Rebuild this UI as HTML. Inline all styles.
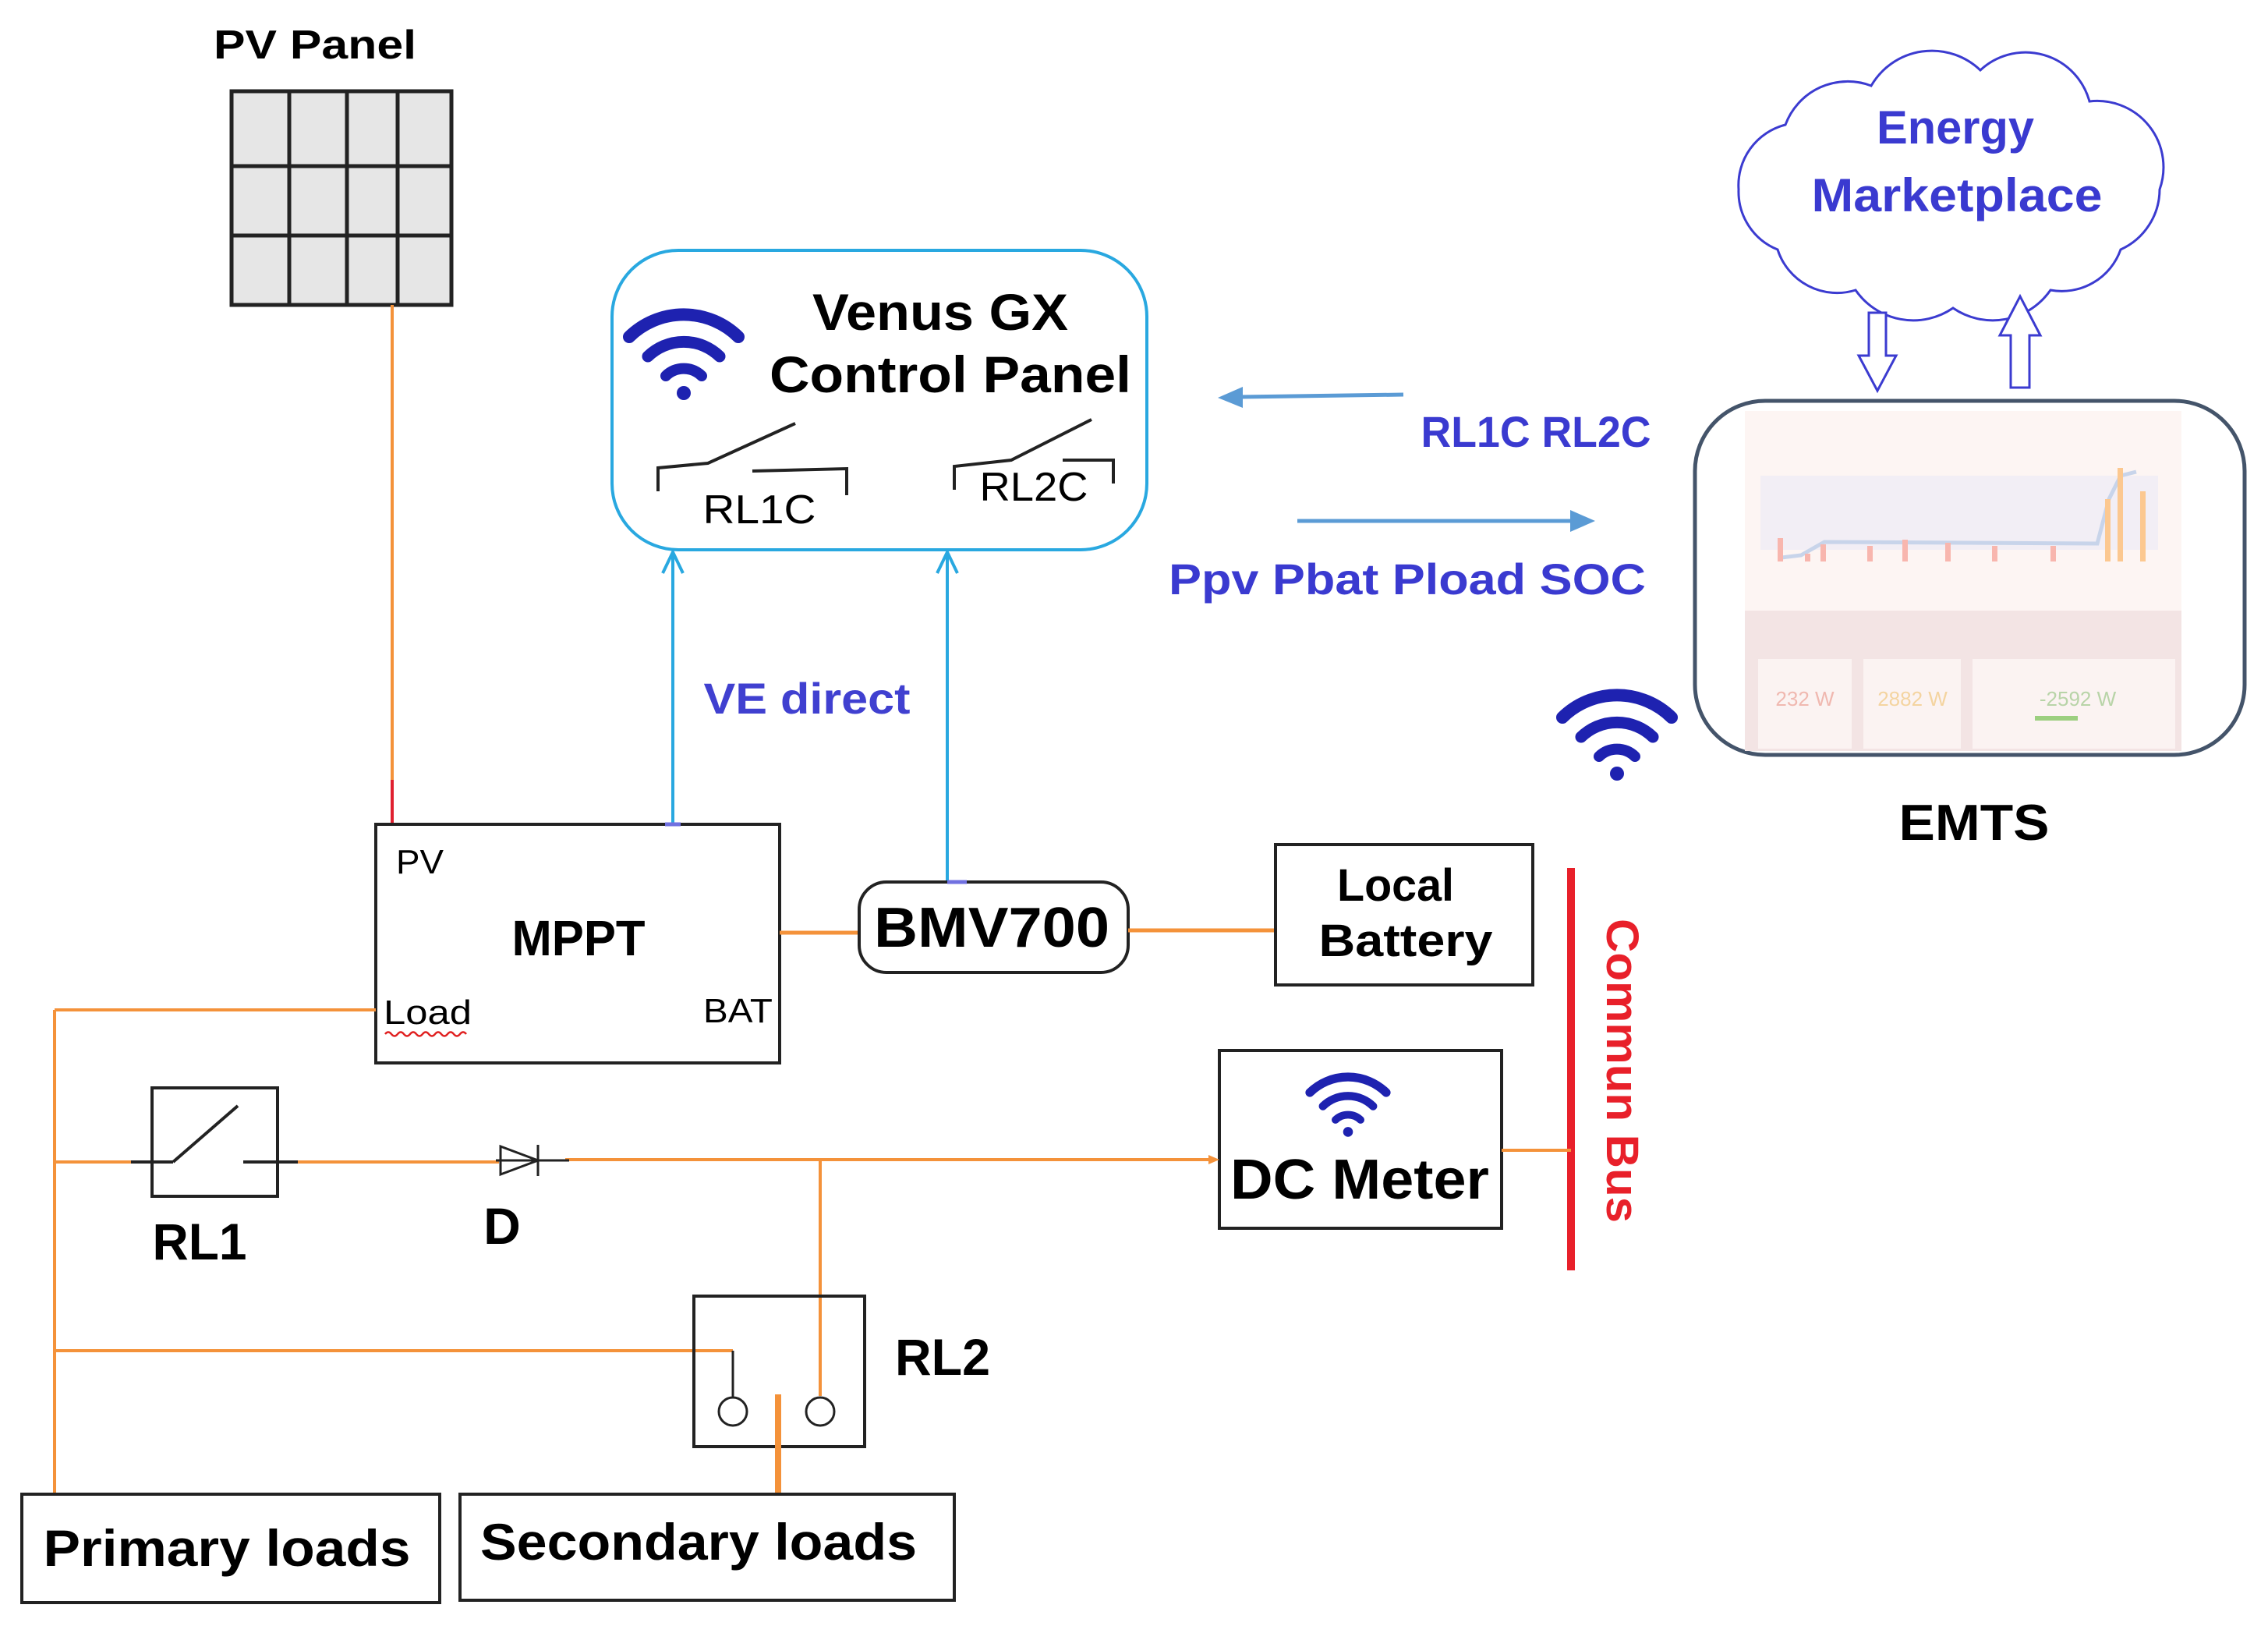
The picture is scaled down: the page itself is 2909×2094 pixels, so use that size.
<!DOCTYPE html>
<html><head><meta charset="utf-8"><style>
html,body{margin:0;padding:0;background:#fff}
svg{display:block}
text{font-family:"Liberation Sans",sans-serif}
</style></head><body>
<svg width="2909" height="2094" viewBox="0 0 2909 2094" xmlns="http://www.w3.org/2000/svg">
<defs>
<g id="wifi">
<path d="M-70,-20 A100,100 0 0 1 70,-20" fill="none" stroke="#1e22b0" stroke-width="16" stroke-linecap="round"/>
<path d="M-46,5 A66,66 0 0 1 46,5" fill="none" stroke="#1e22b0" stroke-width="15" stroke-linecap="round"/>
<path d="M-23,30 A33,33 0 0 1 23,30" fill="none" stroke="#1e22b0" stroke-width="14" stroke-linecap="round"/>
<circle cx="0" cy="52" r="9" fill="#1e22b0"/>
</g>
</defs>

<!-- PV panel -->
<text x="404" y="75" font-size="52" font-weight="bold" text-anchor="middle" textLength="260" lengthAdjust="spacingAndGlyphs">PV Panel</text>
<rect x="297" y="117" width="282" height="274" fill="#e6e6e6" stroke="#222" stroke-width="5"/>
<g stroke="#222" stroke-width="5">
<line x1="371" y1="117" x2="371" y2="391"/><line x1="445" y1="117" x2="445" y2="391"/><line x1="510" y1="117" x2="510" y2="391"/>
<line x1="297" y1="213" x2="579" y2="213"/><line x1="297" y1="302" x2="579" y2="302"/>
</g>
<line x1="503" y1="391" x2="503" y2="1000" stroke="#f4923a" stroke-width="4"/>
<line x1="503" y1="1000" x2="503" y2="1057" stroke="#e02030" stroke-width="4"/>

<!-- Venus GX -->
<rect x="785" y="321" width="686" height="384" rx="85" fill="#fff" stroke="#29a8e0" stroke-width="4"/>
<use href="#wifi" x="877" y="452"/>
<text x="1206" y="423" font-size="66" font-weight="bold" text-anchor="middle" textLength="328" lengthAdjust="spacingAndGlyphs">Venus GX</text>
<text x="1219" y="503" font-size="66" font-weight="bold" text-anchor="middle" textLength="464" lengthAdjust="spacingAndGlyphs">Control Panel</text>
<g stroke="#222" stroke-width="4" fill="none">
<polyline points="844,630 844,600 908,594 1020,543"/>
<polyline points="965,604 1086,601 1086,635"/>
<polyline points="1224,628 1224,598 1297,590 1400,538"/>
<polyline points="1363,590 1428,590 1428,620"/>
</g>
<text x="974" y="671" font-size="52" text-anchor="middle" textLength="145" lengthAdjust="spacingAndGlyphs">RL1C</text>
<text x="1326" y="642" font-size="52" text-anchor="middle" textLength="139" lengthAdjust="spacingAndGlyphs">RL2C</text>

<!-- VE direct arrows -->
<g stroke="#29a8e0" stroke-width="4" fill="none">
<line x1="863" y1="1057" x2="863" y2="710"/><polyline points="850,735 863,708 876,735"/>
<line x1="1215" y1="1131" x2="1215" y2="710"/><polyline points="1202,735 1215,708 1228,735"/>
</g>
<text x="1035" y="915" font-size="56" font-weight="bold" fill="#4040d0" text-anchor="middle" textLength="265" lengthAdjust="spacingAndGlyphs">VE direct</text>

<!-- comm arrows -->
<line x1="1800" y1="506" x2="1590" y2="509" stroke="#5b9bd5" stroke-width="5"/>
<polygon points="1562,510 1594,496 1594,523" fill="#5b9bd5"/>
<text x="1970" y="573" font-size="56" font-weight="bold" fill="#3a3ad0" text-anchor="middle" textLength="295" lengthAdjust="spacingAndGlyphs">RL1C RL2C</text>
<line x1="1664" y1="668" x2="2020" y2="668" stroke="#5b9bd5" stroke-width="5"/>
<polygon points="2046,668 2014,654 2014,682" fill="#5b9bd5"/>
<text x="1805" y="762" font-size="56" font-weight="bold" fill="#3a3ad0" text-anchor="middle" textLength="612" lengthAdjust="spacingAndGlyphs">Ppv  Pbat Pload SOC</text>

<!-- cloud -->
<path d="M2770,243 A85,85 0 0 1 2720,320 A80,80 0 0 1 2630,372 A90,90 0 0 1 2505,395 A90,90 0 0 1 2380,372 A80,80 0 0 1 2280,320 A80,80 0 0 1 2230,243 A80,80 0 0 1 2290,160 A85,85 0 0 1 2400,110 A90,90 0 0 1 2540,90 A85,85 0 0 1 2680,130 A85,85 0 0 1 2770,243 Z" fill="#fff" stroke="#3b3bd0" stroke-width="3"/>
<text x="2508" y="184" font-size="60" font-weight="bold" fill="#3a3ad0" text-anchor="middle" textLength="202" lengthAdjust="spacingAndGlyphs">Energy</text>
<text x="2510" y="271" font-size="60" font-weight="bold" fill="#3a3ad0" text-anchor="middle" textLength="373" lengthAdjust="spacingAndGlyphs">Marketplace</text>
<polygon points="2397,401 2419,401 2419,456 2432,456 2408,501 2384,456 2397,456" fill="#fff" stroke="#3b3bd0" stroke-width="3"/>
<polygon points="2591,380 2617,430 2603,430 2603,497 2579,497 2579,430 2565,430" fill="#fff" stroke="#3b3bd0" stroke-width="3"/>

<!-- EMTS -->
<rect x="2174" y="514" width="705" height="454" rx="90" fill="#fff" stroke="#44546a" stroke-width="5"/>
<rect x="2238" y="527" width="560" height="256" fill="#fdf5f3"/>
<rect x="2238" y="783" width="560" height="180" fill="#f3e4e4"/>
<rect x="2258" y="610" width="510" height="95" fill="#f2eef5"/>
<polyline points="2285,715 2310,712 2340,695 2690,697 2705,640 2720,610 2740,605" fill="none" stroke="#c8d4ea" stroke-width="5"/>
<g fill="#f8b6ae">
<rect x="2280" y="690" width="7" height="30"/><rect x="2315" y="710" width="7" height="10"/><rect x="2335" y="698" width="7" height="22"/><rect x="2395" y="700" width="7" height="20"/><rect x="2440" y="692" width="7" height="28"/><rect x="2495" y="696" width="7" height="24"/><rect x="2555" y="700" width="7" height="20"/><rect x="2630" y="700" width="7" height="20"/>
</g>
<g fill="#fcc890"><rect x="2700" y="640" width="7" height="80"/><rect x="2716" y="600" width="7" height="120"/><rect x="2745" y="630" width="7" height="90"/></g>
<rect x="2255" y="845" width="120" height="115" fill="#fbf3f2"/>
<rect x="2390" y="845" width="125" height="115" fill="#fbf3f2"/>
<rect x="2530" y="845" width="260" height="115" fill="#fbf3f2"/>
<text x="2315" y="905" font-size="26" fill="#f0b8b0" text-anchor="middle">232 W</text>
<text x="2453" y="905" font-size="26" fill="#f4d4a0" text-anchor="middle">2882 W</text>
<text x="2665" y="905" font-size="26" fill="#b8d4a8" text-anchor="middle">-2592 W</text>
<rect x="2610" y="918" width="55" height="6" fill="#9ccf80"/>
<use href="#wifi" x="2074" y="940"/>
<text x="2532" y="1077" font-size="65" font-weight="bold" text-anchor="middle" textLength="193" lengthAdjust="spacingAndGlyphs">EMTS</text>

<!-- MPPT -->
<rect x="482" y="1057" width="518" height="306" fill="#fff" stroke="#222" stroke-width="4"/>
<line x1="853" y1="1057" x2="873" y2="1057" stroke="#7070e0" stroke-width="5"/>
<text x="508" y="1120" font-size="44" textLength="61" lengthAdjust="spacingAndGlyphs">PV</text>
<text x="742" y="1225" font-size="64" font-weight="bold" text-anchor="middle" textLength="171" lengthAdjust="spacingAndGlyphs">MPPT</text>
<text x="492" y="1313" font-size="44" textLength="113" lengthAdjust="spacingAndGlyphs">Load</text>
<path d="M494,1326 q4,-5 8,0 t8,0 t8,0 t8,0 t8,0 t8,0 t8,0 t8,0 t8,0 t8,0 t8,0 t8,0 t8,0" fill="none" stroke="#e02020" stroke-width="2.5"/>
<text x="902" y="1311" font-size="44" textLength="89" lengthAdjust="spacingAndGlyphs">BAT</text>

<!-- BMV700 / battery -->
<line x1="1000" y1="1196" x2="1102" y2="1196" stroke="#f4923a" stroke-width="5"/>
<rect x="1102" y="1131" width="345" height="116" rx="35" fill="#fff" stroke="#222" stroke-width="4"/>
<line x1="1215" y1="1131" x2="1240" y2="1131" stroke="#7070e0" stroke-width="5"/>
<text x="1272" y="1214" font-size="72" font-weight="bold" text-anchor="middle" textLength="302" lengthAdjust="spacingAndGlyphs">BMV700</text>
<line x1="1447" y1="1193" x2="1636" y2="1193" stroke="#f4923a" stroke-width="5"/>
<rect x="1636" y="1083" width="330" height="180" fill="#fff" stroke="#222" stroke-width="4"/>
<text x="1790" y="1155" font-size="58" font-weight="bold" text-anchor="middle" textLength="150" lengthAdjust="spacingAndGlyphs">Local</text>
<text x="1803" y="1226" font-size="58" font-weight="bold" text-anchor="middle" textLength="223" lengthAdjust="spacingAndGlyphs">Battery</text>

<!-- Commun bus -->
<line x1="2015" y1="1113" x2="2015" y2="1629" stroke="#e8202a" stroke-width="10"/>
<text x="0" y="0" font-size="58" font-weight="bold" fill="#e8202a" text-anchor="middle" textLength="390" lengthAdjust="spacingAndGlyphs" transform="translate(2061 1373) rotate(90)">Commun Bus</text>

<!-- DC meter -->
<rect x="1564" y="1347" width="362" height="228" fill="#fff" stroke="#222" stroke-width="4"/>
<g transform="translate(1729 1415) scale(0.7)"><use href="#wifi"/></g>
<text x="1744" y="1537" font-size="72" font-weight="bold" text-anchor="middle" textLength="332" lengthAdjust="spacingAndGlyphs">DC Meter</text>
<line x1="1926" y1="1475" x2="2015" y2="1475" stroke="#f4923a" stroke-width="4"/>

<!-- left bus lines -->
<g stroke="#f4923a" stroke-width="4" fill="none">
<line x1="70" y1="1295" x2="70" y2="1916"/>
<line x1="70" y1="1295" x2="482" y2="1295"/>
<line x1="70" y1="1490" x2="170" y2="1490"/>
<line x1="380" y1="1490" x2="640" y2="1490"/>
<line x1="725" y1="1487" x2="1558" y2="1487"/>
<line x1="1052" y1="1487" x2="1052" y2="1790"/>
<line x1="70" y1="1732" x2="940" y2="1732"/>
</g>
<polygon points="1564,1487 1550,1481 1550,1493" fill="#f4923a"/>

<!-- RL1 -->
<rect x="195" y="1395" width="161" height="139" fill="none" stroke="#222" stroke-width="4"/>
<g stroke="#222" stroke-width="4" fill="none">
<line x1="168" y1="1490" x2="222" y2="1490"/>
<line x1="222" y1="1490" x2="305" y2="1418"/>
<line x1="312" y1="1490" x2="382" y2="1490"/>
</g>
<text x="256" y="1615" font-size="66" font-weight="bold" text-anchor="middle" textLength="121" lengthAdjust="spacingAndGlyphs">RL1</text>

<!-- Diode -->
<g stroke="#222" stroke-width="3" fill="none">
<polygon points="642,1470 642,1506 690,1488"/>
<line x1="690" y1="1468" x2="690" y2="1508"/>
<line x1="636" y1="1488" x2="730" y2="1488"/>
</g>
<text x="644" y="1595" font-size="66" font-weight="bold" text-anchor="middle">D</text>

<!-- RL2 -->
<rect x="890" y="1662" width="219" height="193" fill="none" stroke="#222" stroke-width="4"/>
<line x1="940" y1="1732" x2="940" y2="1792" stroke="#222" stroke-width="3"/>
<circle cx="940" cy="1810" r="18" fill="none" stroke="#222" stroke-width="3"/>
<circle cx="1052" cy="1810" r="18" fill="none" stroke="#222" stroke-width="3"/>
<line x1="998" y1="1788" x2="998" y2="1918" stroke="#f4923a" stroke-width="8"/>
<text x="1209" y="1763" font-size="66" font-weight="bold" text-anchor="middle" textLength="122" lengthAdjust="spacingAndGlyphs">RL2</text>

<!-- loads -->
<rect x="28" y="1916" width="536" height="139" fill="#fff" stroke="#222" stroke-width="4"/>
<text x="291" y="2008" font-size="66" font-weight="bold" text-anchor="middle" textLength="471" lengthAdjust="spacingAndGlyphs">Primary loads</text>
<rect x="590" y="1916" width="634" height="136" fill="#fff" stroke="#222" stroke-width="4"/>
<text x="896" y="2000" font-size="66" font-weight="bold" text-anchor="middle" textLength="560" lengthAdjust="spacingAndGlyphs">Secondary loads</text>
</svg>
</body></html>
